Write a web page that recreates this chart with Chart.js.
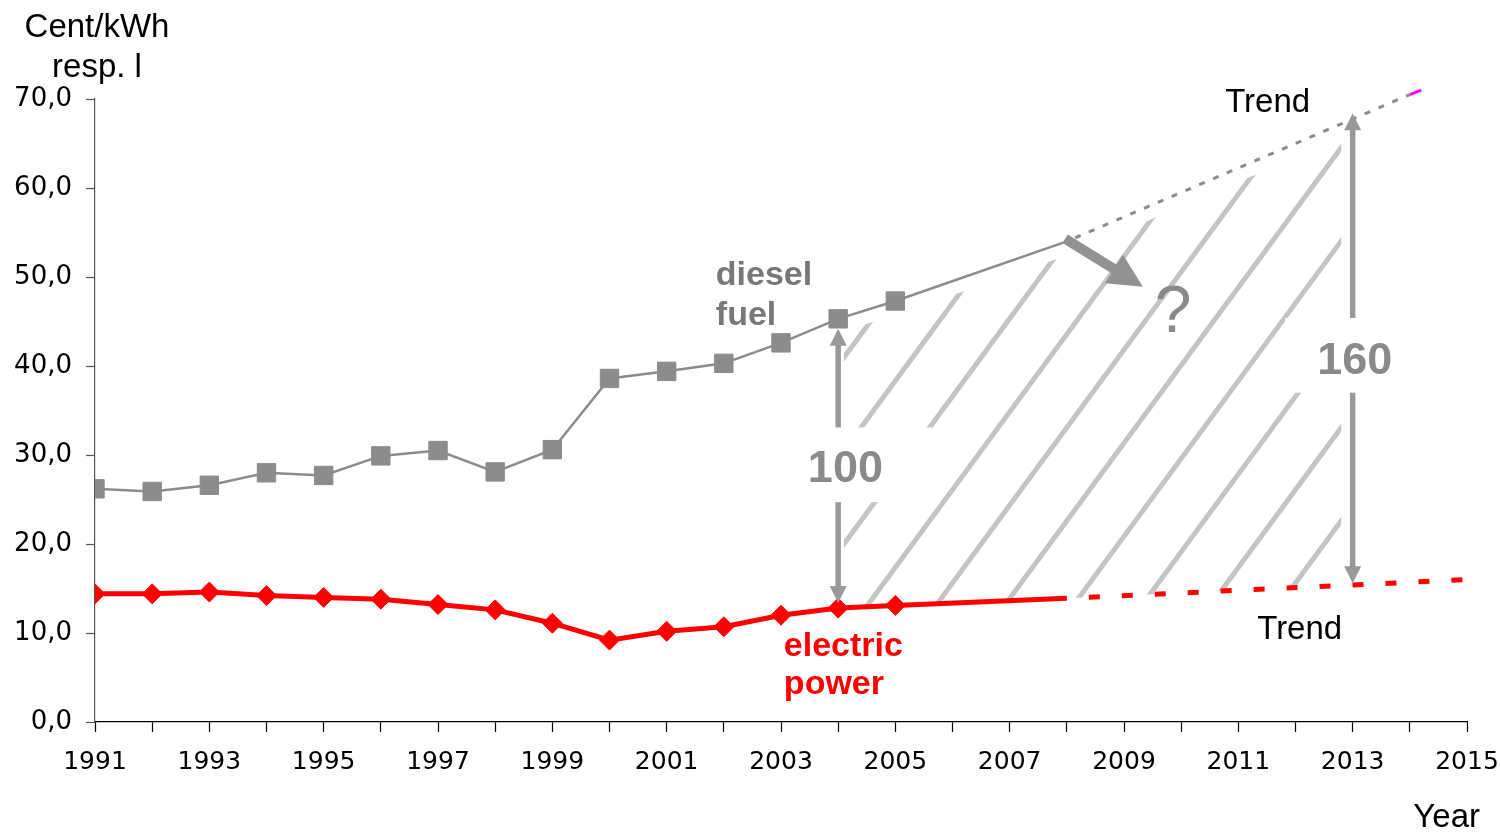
<!DOCTYPE html>
<html>
<head>
<meta charset="utf-8">
<script src="https://cdn.jsdelivr.net/npm/chart.js@4.4.1/dist/chart.umd.min.js"></script>
<style>
  html, body { margin: 0; padding: 0; background: #fff; }
  #wrap { width: 1501px; height: 832px; }
</style>
</head>
<body>
<div id="wrap"><canvas id="myChart"></canvas></div>
<script>
// measured values
const years = [1991, 1992, 1993, 1994, 1995, 1996, 1997, 1998, 1999, 2000, 2001, 2002, 2003, 2004, 2005];
const diesel = [26.2, 25.9, 26.6, 28.0, 27.7, 29.9, 30.5, 28.1, 30.6, 38.6, 39.4, 40.3, 42.6, 45.3, 47.3];
const electric = [14.4, 14.4, 14.6, 14.2, 14.0, 13.8, 13.2, 12.6, 11.1, 9.2, 10.2, 10.7, 12.0, 12.8, 13.1];

// line continued to 2008 without markers
const extYears = [2005, 2008];
const dieselExt = [47.3, 54.0];
const electricExt = [13.1, 13.9];

// trends
const dieselTrendYears = [2008, 2014];
const dieselTrend = [54.0, 70.5];
const dieselTipYears = [2014, 2014.2];
const dieselTip = [70.5, 71.0];
const electricTrendYears = [2008, 2015];
const electricTrend = [13.9, 16.0];

const xTickLabels = ['1991', '', '1993', '', '1995', '', '1997', '', '1999', '', '2001', '', '2003', '',
                     '2005', '', '2007', '', '2009', '', '2011', '', '2013', '', '2015'];
const yTickLabels = ['0,0', '10,0', '20,0', '30,0', '40,0', '50,0', '60,0', '70,0'];

// annotation settings (data coordinates)
const hatch = { from: 2004.1, to: 2012.8, anchorYear: 2004.5, anchorValue: 13, step: 1.2, slope: 1.36, gap: 14 };
const arrow100 = { year: 2004, from: 45.3, to: 12.8, padTop: 10, padBottom: 5 };
const arrow160 = { year: 2013, from: 68.4, to: 15.6, padTop: 0, padBottom: 0 };
const box100 = { x0: 2003.33, x1: 2005.64, y0: 33.1, y1: 24.7 };
const box160 = { x0: 2011.82, x1: 2014.26, y0: 45.4, y1: 37.0 };
const bigArrow = { x0: 2007.97, y0: 54.3, x1: 2009.33, y1: 48.9 };

const toXY = (xs, ys) => xs.map((x, i) => ({ x: x, y: ys[i] }));

function interp(xa, ya, x) {
    if (x <= xa[0]) return ya[0];
    for (let i = 1; i < xa.length; i++) {
        if (x <= xa[i]) {
            const t = (x - xa[i - 1]) / (xa[i] - xa[i - 1]);
            return ya[i - 1] + t * (ya[i] - ya[i - 1]);
        }
    }
    return ya[ya.length - 1];
}

const upX = years.concat(extYears.slice(1), dieselTrendYears.slice(1));
const upY = diesel.concat(dieselExt.slice(1), dieselTrend.slice(1));
const loX = years.concat(extYears.slice(1), electricTrendYears.slice(1));
const loY = electric.concat(electricExt.slice(1), electricTrend.slice(1));

function head(ctx, tx, ty, dx, dy, len, half) {
    const l = Math.hypot(dx, dy), ux = dx / l, uy = dy / l;
    const bx = tx - ux * len, by = ty - uy * len;
    ctx.beginPath();
    ctx.moveTo(tx, ty);
    ctx.lineTo(bx - uy * half, by + ux * half);
    ctx.lineTo(bx + uy * half, by - ux * half);
    ctx.closePath();
    ctx.fill();
}

function doubleArrow(ctx, x, y, a) {
    const px = x.getPixelForValue(a.year);
    const top = y.getPixelForValue(a.from) + a.padTop;
    const bot = y.getPixelForValue(a.to) - a.padBottom;
    ctx.strokeStyle = '#999999';
    ctx.fillStyle = '#999999';
    ctx.lineWidth = 5.5;
    ctx.beginPath();
    ctx.moveTo(px, top + 15);
    ctx.lineTo(px, bot - 15);
    ctx.stroke();
    head(ctx, px, top, 0, -1, 17, 8.5);
    head(ctx, px, bot, 0, 1, 17, 8.5);
}

function whiteBox(ctx, x, y, b) {
    const x0 = x.getPixelForValue(b.x0), x1 = x.getPixelForValue(b.x1);
    const y0 = y.getPixelForValue(b.y0), y1 = y.getPixelForValue(b.y1);
    ctx.fillStyle = '#ffffff';
    ctx.fillRect(x0, y0, x1 - x0, y1 - y0);
}

function text(ctx, str, px, py, font, color, align) {
    ctx.font = font;
    ctx.fillStyle = color;
    ctx.textAlign = align || 'left';
    ctx.textBaseline = 'alphabetic';
    ctx.fillText(str, px, py);
}

const annotations = {
    id: 'annotations',
    beforeDatasetsDraw(chart) {
        const { ctx } = chart;
        const x = chart.scales.x, y = chart.scales.y;
        const x0 = x.getPixelForValue(hatch.from), x1 = x.getPixelForValue(hatch.to);
        const n = 200;
        ctx.save();
        ctx.beginPath();
        for (let i = 0; i <= n; i++) {
            const px = x0 + (x1 - x0) * i / n;
            ctx.lineTo(px, y.getPixelForValue(interp(upX, upY, x.getValueForPixel(px))) + hatch.gap);
        }
        for (let i = n; i >= 0; i--) {
            const px = x0 + (x1 - x0) * i / n;
            ctx.lineTo(px, y.getPixelForValue(interp(loX, loY, x.getValueForPixel(px))));
        }
        ctx.closePath();
        ctx.clip();
        ctx.strokeStyle = '#c4c4c4';
        ctx.lineWidth = 5;
        const ay = y.getPixelForValue(hatch.anchorValue);
        for (let k = -4; k < 12; k++) {
            const ax = x.getPixelForValue(hatch.anchorYear + k * hatch.step);
            ctx.beginPath();
            ctx.moveTo(ax - 300 / hatch.slope, ay + 300);
            ctx.lineTo(ax + 800 / hatch.slope, ay - 800);
            ctx.stroke();
        }
        ctx.restore();
    },
    afterDatasetsDraw(chart) {
        const { ctx } = chart;
        const x = chart.scales.x, y = chart.scales.y;
        ctx.save();

        doubleArrow(ctx, x, y, arrow100);
        doubleArrow(ctx, x, y, arrow160);
        whiteBox(ctx, x, y, box100);
        whiteBox(ctx, x, y, box160);

        // thick arrow from the kink
        const sx = x.getPixelForValue(bigArrow.x0), sy = y.getPixelForValue(bigArrow.y0);
        const tx = x.getPixelForValue(bigArrow.x1), ty = y.getPixelForValue(bigArrow.y1);
        const d = Math.hypot(tx - sx, ty - sy);
        ctx.strokeStyle = '#929292';
        ctx.fillStyle = '#929292';
        ctx.lineWidth = 10;
        ctx.beginPath();
        ctx.moveTo(sx, sy);
        ctx.lineTo(tx - (tx - sx) / d * 30, ty - (ty - sy) / d * 30);
        ctx.stroke();
        head(ctx, tx, ty, tx - sx, ty - sy, 34, 17);

        const bold45 = 'bold 45px "Liberation Sans", Arial, sans-serif';
        text(ctx, '100', x.getPixelForValue(2003.47), y.getPixelForValue(27.0), bold45, '#8a8a8a');
        text(ctx, '160', x.getPixelForValue(2012.38), y.getPixelForValue(39.1), bold45, '#8a8a8a');
        text(ctx, '?', x.getPixelForValue(2009.54), y.getPixelForValue(43.8), '66px "Liberation Sans", Arial, sans-serif', '#8a8a8a');

        const bold34 = 'bold 34px "Liberation Sans", Arial, sans-serif';
        text(ctx, 'diesel', x.getPixelForValue(2001.86), y.getPixelForValue(49.1), bold34, '#787878');
        text(ctx, 'fuel', x.getPixelForValue(2001.86), y.getPixelForValue(49.1) + 40, bold34, '#787878');
        text(ctx, 'electric', x.getPixelForValue(2003.05), y.getPixelForValue(7.45), bold34, '#ff0000');
        text(ctx, 'power', x.getPixelForValue(2003.05), y.getPixelForValue(7.45) + 38, bold34, '#ff0000');

        const reg33 = '33px "Liberation Sans", Arial, sans-serif';
        text(ctx, 'Trend', x.getPixelForValue(2010.77), y.getPixelForValue(68.5), reg33, '#000');
        text(ctx, 'Trend', x.getPixelForValue(2011.33), y.getPixelForValue(9.3), reg33, '#000');
        ctx.restore();
    },
    afterDraw(chart) {
        const { ctx, chartArea } = chart;
        ctx.save();
        const reg33 = '33px "Liberation Sans", Arial, sans-serif';
        text(ctx, 'Cent/kWh', chartArea.left + 2, 37, reg33, '#000', 'center');
        text(ctx, 'resp. l', chartArea.left + 2, 77, reg33, '#000', 'center');
        text(ctx, 'Year', chart.width - 21, 827, reg33, '#000', 'right');
        ctx.restore();
    }
};

new Chart(document.getElementById('myChart'), {
    type: 'line',
    data: {
        datasets: [
            {
                data: toXY(years, electric),
                borderColor: '#ff0000',
                backgroundColor: '#ff0000',
                borderWidth: 5,
                pointStyle: 'rectRot',
                pointRadius: 10,
                pointBorderWidth: 1,
                tension: 0
            },
            {
                data: toXY(extYears, electricExt),
                borderColor: '#ff0000',
                borderWidth: 5,
                pointRadius: 0
            },
            {
                data: toXY(electricTrendYears, electricTrend),
                borderColor: '#ff0000',
                borderWidth: 5,
                borderDash: [11, 22],
                borderDashOffset: 11,
                pointRadius: 0
            },
            {
                data: toXY(years, diesel),
                borderColor: '#8c8c8c',
                backgroundColor: '#8c8c8c',
                borderWidth: 2.5,
                pointStyle: 'rect',
                pointRadius: 13,
                pointBorderWidth: 1
            },
            {
                data: toXY(extYears, dieselExt),
                borderColor: '#8c8c8c',
                borderWidth: 2.5,
                pointRadius: 0
            },
            {
                data: toXY(dieselTrendYears, dieselTrend),
                borderColor: '#8c8c8c',
                borderWidth: 3,
                borderDash: [6, 9],
                borderDashOffset: 6,
                pointRadius: 0,
                clip: false
            },
            {
                data: toXY(dieselTipYears, dieselTip),
                borderColor: '#ff00ff',
                borderWidth: 3,
                pointRadius: 0,
                clip: false
            }
        ]
    },
    options: {
        responsive: true,
        maintainAspectRatio: false,
        animation: false,
        layout: { padding: { left: 0, top: 99, right: 34, bottom: 0 } },
        plugins: { legend: { display: false }, tooltip: { enabled: false } },
        scales: {
            x: {
                type: 'linear',
                min: 1991,
                max: 2015,
                afterFit: (s) => { s.height = 110; s.paddingLeft = 0; s.paddingRight = 0; },
                ticks: {
                    stepSize: 1,
                    autoSkip: false,
                    maxRotation: 0,
                    padding: 15,
                    color: '#000',
                    font: { family: '"DejaVu Sans", Verdana, sans-serif', size: 25 },
                    callback: (v, i) => xTickLabels[i]
                },
                grid: { drawOnChartArea: false, tickLength: 10, tickColor: '#000', tickWidth: 1.2 },
                border: { color: '#000', width: 1.2 }
            },
            y: {
                min: 0,
                max: 70,
                afterFit: (s) => { s.width = 95; s.paddingTop = 0; s.paddingBottom = 0; },
                ticks: {
                    stepSize: 10,
                    padding: 14,
                    color: '#000',
                    font: { family: '"DejaVu Sans", Verdana, sans-serif', size: 26 },
                    callback: (v, i) => yTickLabels[i]
                },
                grid: { drawOnChartArea: false, tickLength: 9, tickColor: '#555', tickWidth: 1.2 },
                border: { color: '#555', width: 1.2 }
            }
        }
    },
    plugins: [annotations]
});
</script>
</body>
</html>
